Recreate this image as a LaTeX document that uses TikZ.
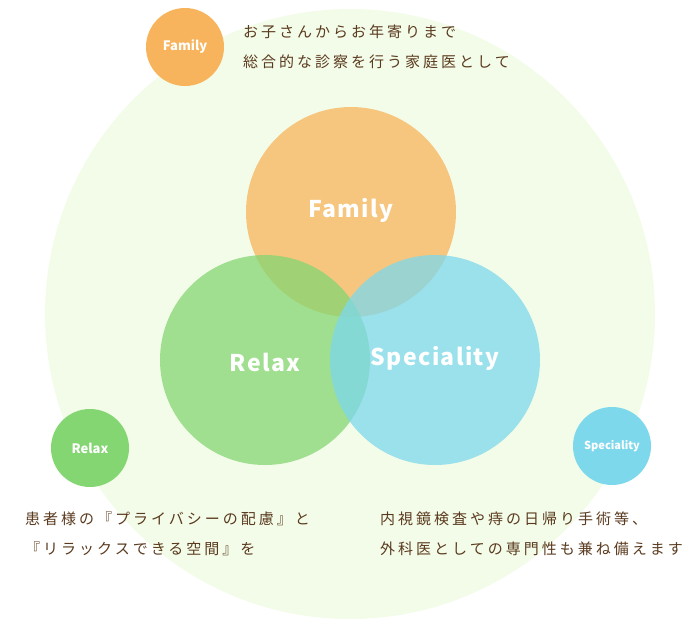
\documentclass[tikz,border=0pt]{standalone}
\usepackage{fontspec}
\setmainfont{Noto Sans CJK JP}
\usepackage{tikz}
\usetikzlibrary{positioning}
\definecolor{bgcol}{HTML}{F3FCE9}
\definecolor{famcol}{HTML}{F8B45C}
\definecolor{relcol}{HTML}{84D672}
\definecolor{specol}{HTML}{7DD8EC}
\definecolor{txtcol}{HTML}{5A3A1E}

\begin{document}
\begin{tikzpicture}[x=1pt, y=-1pt, bigcircle/.style={circle, minimum size=210pt, inner sep=0pt, fill opacity=0.75}, label/.style={text=white, font=\bfseries\fontsize{23}{26}\selectfont\addfontfeature{LetterSpace=6}}, smallcircle/.style={circle, minimum size=78pt, inner sep=0pt, text=white, font=\bfseries\fontsize{13}{15}\selectfont}, note/.style={anchor=north west, align=left, text=txtcol, font=\fontsize{15}{30}\selectfont\addfontfeature{LetterSpace=20}, inner sep=0pt}]
    \useasboundingbox (0,0) rectangle (700,618);

    %Nodes
    \node[circle, fill=bgcol, minimum size=610pt, inner sep=0pt](back) at (350,314){};
    \node[bigcircle, fill=famcol](family) at (351,212){};
    \node[bigcircle, fill=relcol](relax) at (265,360){};
    \node[bigcircle, fill=specol](speciality) at (435,360){};
    \node[label](family_text) at (351,210){Family};
    \node[label](relax_text) at (265,362){Relax};
    \node[label](speciality_text) at (435,358){Speciality};
    \node[smallcircle, fill=famcol](family_small) at (185,47){Family};
    \node[smallcircle, fill=relcol](relax_small) at (90,448){Relax};
    \node[smallcircle, fill=specol, font=\bfseries\fontsize{11}{13}\selectfont](speciality_small) at (612,446){Speciality};
    \node[note](family_note) at (243,25){お子さんからお年寄りまで\\総合的な診察を行う家庭医として};
    \node[note](relax_note) at (25,512){患者様の『プライバシーの配慮』と\\『リラックスできる空間』を};
    \node[note](speciality_note) at (380,512){内視鏡検査や痔の日帰り手術等、\\外科医としての専門性も兼ね備えます};

\end{tikzpicture}
\end{document}
